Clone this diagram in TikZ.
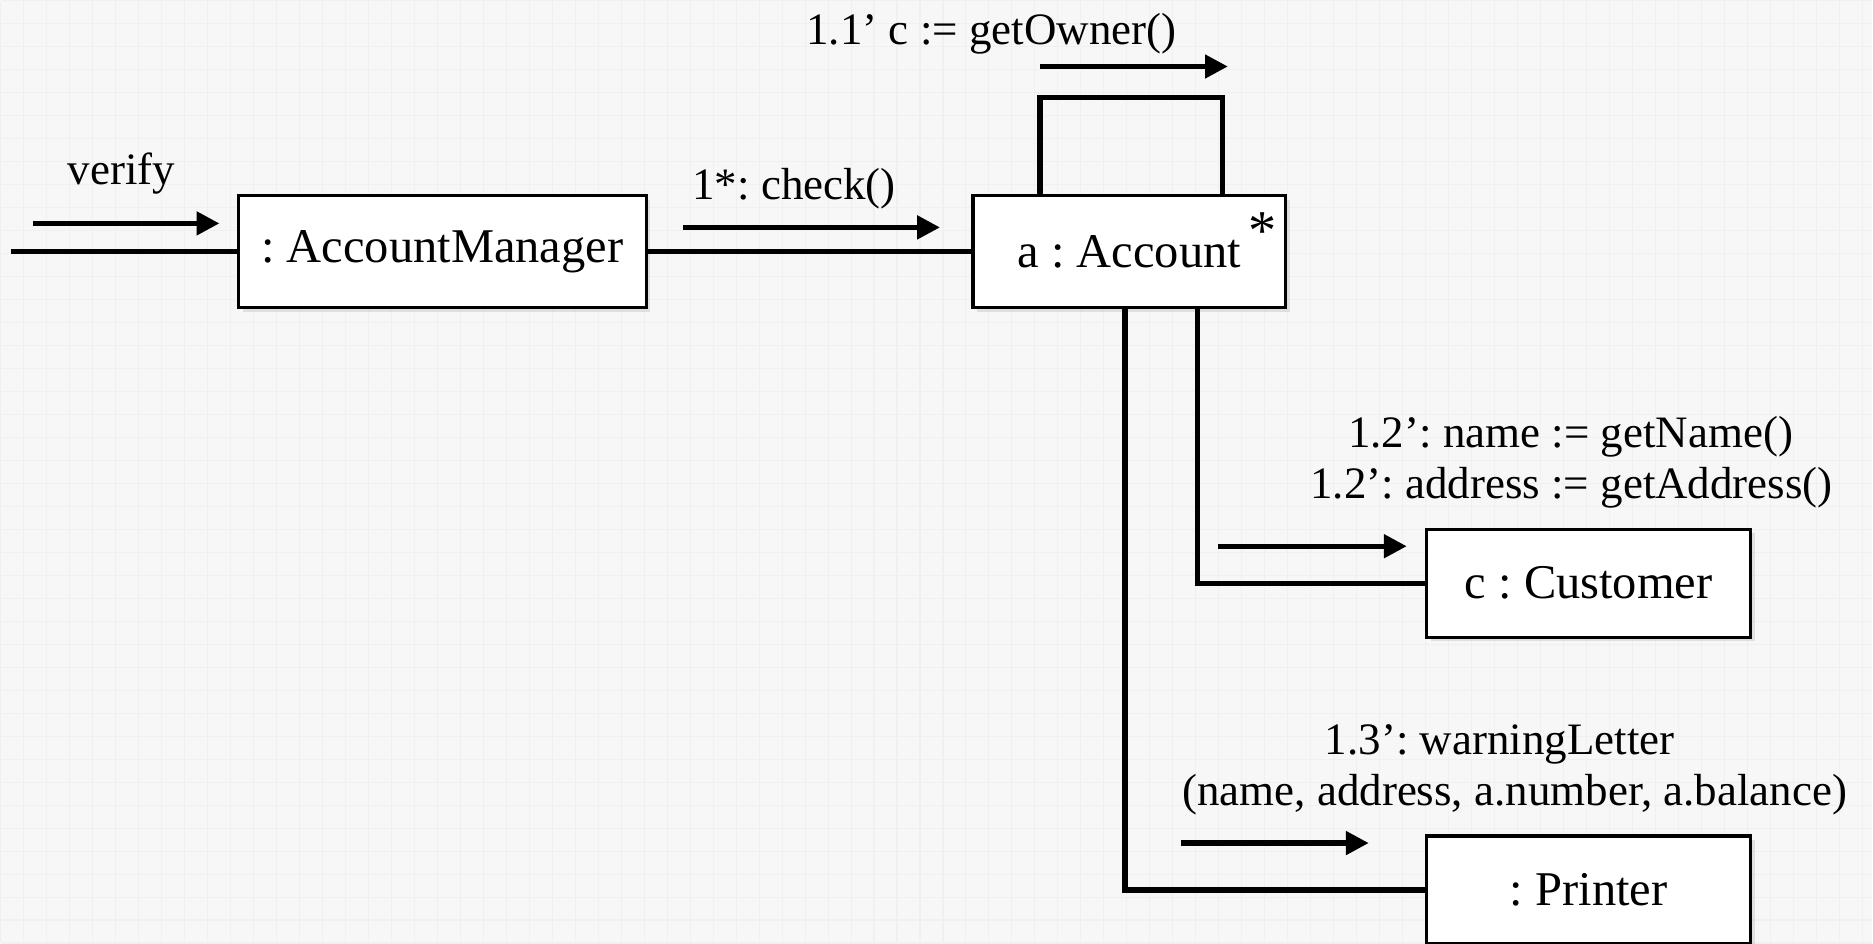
\documentclass[tikz,border=0pt]{standalone}
\usepackage{fontspec}
\setmainfont{Liberation Serif}
\usepackage{tikz}
\usetikzlibrary{arrows.meta,shadows}
\frenchspacing

\begin{document}
\begin{tikzpicture}[
    obj/.style={draw, line width=0.9pt, fill=white, minimum height=1.12cm,
        font=\fontsize{13.8}{16}\selectfont,
        drop shadow={shadow xshift=1.2pt, shadow yshift=-1.2pt, opacity=0.2}},
    link/.style={line width=1.5pt},
    msg/.style={line width=1.5pt, -{Triangle[length=6.5pt,width=6.5pt]}},
    lbl/.style={font=\fontsize{12.8}{15}\selectfont, inner sep=0pt, align=center}
]
% background
\fill[gray!6] (0,0) rectangle (18.73,9.43);
\draw[gray!12, line width=0.3pt, step=0.23] (0,0) grid (18.73,9.43);
\useasboundingbox (0,0) rectangle (18.73,9.43);

% objects
\node[obj, minimum width=4.08cm] (mgr) at (4.42,6.92) {: AccountManager};
\node[obj, minimum width=3.13cm] (acc) at (11.295,6.92) {a : Account};
\node[obj, minimum width=3.24cm, minimum height=1.08cm] (cust) at (15.89,3.60) {c : Customer};
\node[obj, minimum width=3.24cm, minimum height=1.08cm] (prn) at (15.89,0.53) {: Printer};
\node[font=\fontsize{16}{18}\selectfont, inner sep=0pt, anchor=base] (star) at (12.63,6.94) {*};

% links
\coordinate (in)       at (0.10,6.92);
\coordinate (loopL)    at (10.40,8.46);
\coordinate (loopR)    at (12.23,8.46);
\coordinate (custbend) at (11.98,3.60);
\coordinate (prnbend)  at (11.25,0.53);

\draw[link] (in) -- (mgr.west);
\draw[link] (mgr.east) -- (acc.west);
\draw[link] (loopL |- acc.north) -- (loopL) -- (loopR) -- (loopR |- acc.north);
\draw[link] (custbend |- acc.south) -- (custbend) -- (cust.west);
\draw[link] (prnbend |- acc.south) -- (prnbend) -- (prn.west);

% messages
\coordinate (m0a) at (0.32,7.20);
\coordinate (m0b) at (2.19,7.20);
\coordinate (m1a) at (6.83,7.16);
\coordinate (m1b) at (9.40,7.16);
\coordinate (m2a) at (10.40,8.77);
\coordinate (m2b) at (12.28,8.77);
\coordinate (m3a) at (12.18,3.97);
\coordinate (m3b) at (14.07,3.97);
\coordinate (m4a) at (11.81,1.00);
\coordinate (m4b) at (13.69,1.00);

\draw[msg] (m0a) -- (m0b);
\draw[msg] (m1a) -- (m1b);
\draw[msg] (m2a) -- (m2b);
\draw[msg] (m3a) -- (m3b);
\draw[msg] (m4a) -- (m4b);

\node[lbl] (verify)  at (1.21,7.70) {verify};
\node[lbl] (check)   at (7.94,7.55) {1*: check()};
\node[lbl] (owner)   at (9.915,9.10) {1.1’ c := getOwner()};
\node[lbl] (getname) at (15.71,5.07) {1.2’: name := getName()};
\node[lbl] (getaddr) at (15.72,4.56) {1.2’: address := getAddress()};
\node[lbl] (warn)    at (15.00,1.99) {1.3’: warningLetter};
\node[lbl] (warnarg) at (15.15,1.48) {(name, address, a.number, a.balance)};
\end{tikzpicture}
\end{document}
